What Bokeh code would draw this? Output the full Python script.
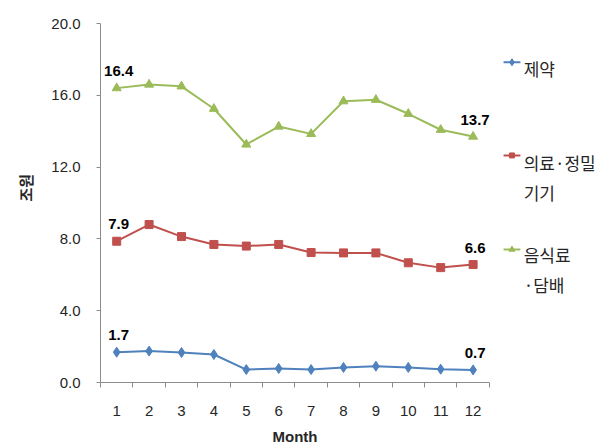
from bokeh.plotting import figure
from bokeh.models import Range1d, FixedTicker, NumeralTickFormatter, ColumnDataSource, Title
from bokeh.core.properties import value
from bokeh.embed import file_html
from bokeh.resources import INLINE

months = [1, 2, 3, 4, 5, 6, 7, 8, 9, 10, 11, 12]
pharma = [1.69, 1.75, 1.67, 1.56, 0.72, 0.78, 0.72, 0.84, 0.91, 0.84, 0.74, 0.70]
medical = [7.87, 8.80, 8.13, 7.69, 7.60, 7.69, 7.24, 7.22, 7.22, 6.67, 6.40, 6.57]
food = [16.40, 16.60, 16.50, 15.25, 13.26, 14.26, 13.85, 15.67, 15.75, 14.97, 14.08, 13.70]
names = ["제약", "의료·정밀\n기기", "음식료\n·담배"]
y_ticks = [0, 4, 8, 12, 16, 20]
x_label = "Month"
y_label = "조원"

BLUE = "#4F81BD"
RED = "#C0504D"
GREEN = "#9BBB59"
TXT = "#262626"
AX = "#8C8C8C"

px_x = 32.4
frame_w = 504
p = figure(frame_width=frame_w, frame_height=359, output_backend="svg", toolbar_location=None,
           x_range=Range1d(0.5, 0.5 + frame_w / px_x), y_range=Range1d(0, 20),
           min_border_left=100, min_border_right=0, min_border_top=23, min_border_bottom=63)
p.outline_line_color = None
p.xgrid.visible = False
p.ygrid.visible = False

# axes
p.xaxis.ticker = FixedTicker(ticks=months, minor_ticks=[m - 0.5 for m in months] + [12.5])
p.xaxis.bounds = (0.5, 12.5)
p.xaxis.major_tick_out = 0
p.xaxis.major_tick_in = 0
p.xaxis.minor_tick_out = 5
p.xaxis.minor_tick_in = 0
p.xaxis.major_label_standoff = 18
p.yaxis.ticker = FixedTicker(ticks=y_ticks)
p.yaxis.formatter = NumeralTickFormatter(format="0.0")
p.yaxis.major_tick_out = 4
p.yaxis.major_tick_in = 0
p.yaxis.major_label_standoff = 16
for ax in (p.xaxis, p.yaxis):
    ax.axis_line_color = AX
    ax.major_tick_line_color = AX
    ax.major_label_text_font = "Liberation Sans"
    ax.major_label_text_font_size = "15px"
    ax.major_label_text_color = TXT
p.xaxis.minor_tick_line_color = AX
p.yaxis.minor_tick_line_color = None

# axis titles (placed as titles so they can be offset like the reference)
p.add_layout(Title(text=x_label, align="left", offset=172, standoff=14,
                   text_font="Liberation Sans", text_font_style="bold", text_font_size="15px",
                   text_color=TXT), "below")
p.add_layout(Title(text=y_label, align="left", offset=181, standoff=25,
                   text_font="Noto Sans CJK KR", text_font_style="bold", text_font_size="15px",
                   text_color=TXT), "left")

series = [(pharma, BLUE, "diamond", 10), (medical, RED, "square", 8), (food, GREEN, "triangle", 9)]
for vals, col, mk, sz in series:
    p.line(months, vals, line_color=col, line_width=2)
    p.scatter(months, vals, marker=mk, size=sz, fill_color=col, line_color=col)

# data labels at first and last points
lx, ly, lt = [], [], []
for vals, _, _, _ in series:
    for i in (0, len(vals) - 1):
        lx.append(months[i])
        ly.append(vals[i])
        lt.append(f"{vals[i]:.1f}")
src = ColumnDataSource(dict(x=lx, y=ly, t=lt))
p.text(x="x", y="y", text="t", source=src, text_align="center", text_baseline="middle",
       y_offset=-17, x_offset=2, text_font=value("Liberation Sans"), text_font_style="bold",
       text_font_size="15px", text_color="black")

# legend (manual, right of plot)
leg_y = [(17.84, 17.49), (12.65, 12.28), (7.41, 7.13)]
for (vals, col, mk, sz), name, (gy, ty) in zip(series, names, leg_y):
    p.line([12.94, 13.46], [gy, gy], line_color=col, line_width=2)
    p.scatter([13.2], [gy], marker=mk, size=sz - 3, fill_color=col, line_color=col)
    lines = name.split("\n")
    for k, ln in enumerate(lines):
        p.text([13.56], [ty - k * 1.67], text=[ln], text_align="left", text_baseline="middle",
               text_font=value("Noto Sans CJK KR"), text_font_size="17px", text_color=TXT)

open("out.html", "w").write(file_html(p, INLINE))
